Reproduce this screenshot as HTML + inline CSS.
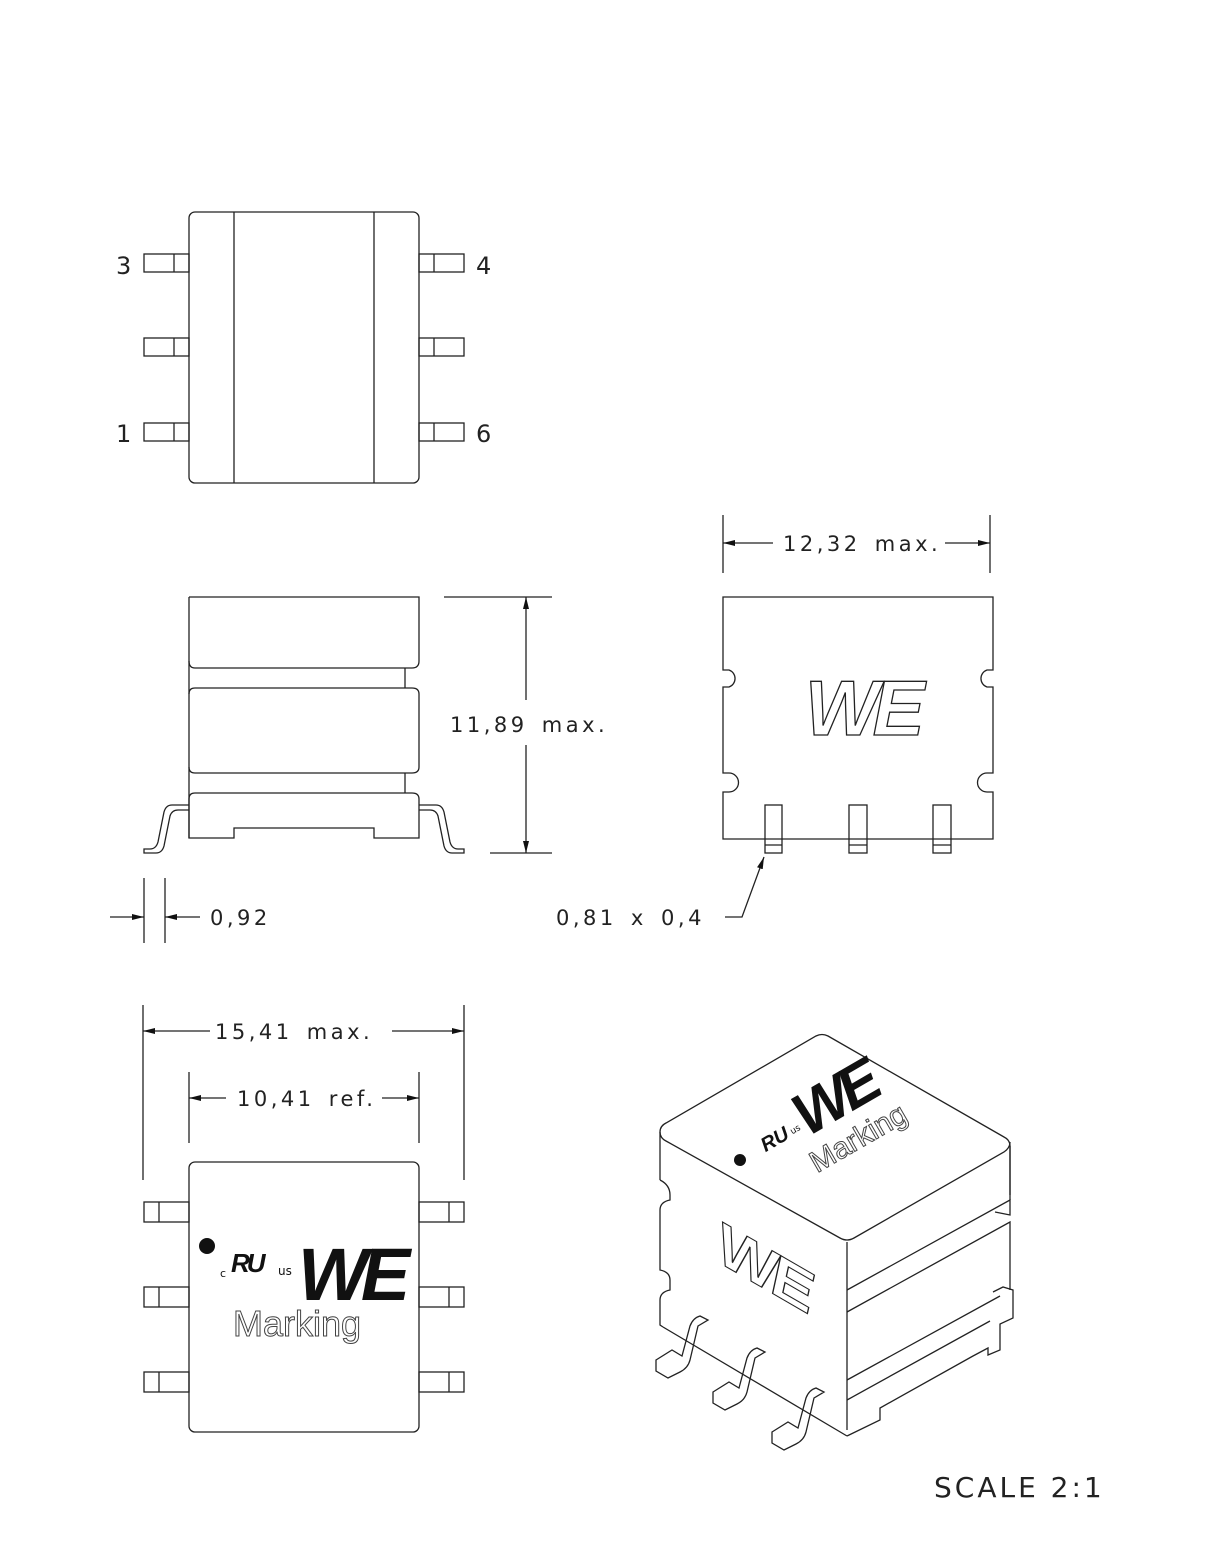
<!DOCTYPE html>
<html><head><meta charset="utf-8"><style>
html,body{margin:0;padding:0;background:#fff;}
svg{display:block;}
text{font-family:"DejaVu Sans","Liberation Sans",sans-serif;fill:#222;}
</style></head><body>
<svg width="1229" height="1558" viewBox="0 0 1229 1558" xmlns="http://www.w3.org/2000/svg">
<defs>
<marker id="a" viewBox="0 0 12 6" refX="12" refY="3" markerWidth="12" markerHeight="6" orient="auto" markerUnits="userSpaceOnUse"><path d="M0,0 L12,3 L0,6 z" fill="#111"/></marker>
</defs>
<g fill="none" stroke="#222" stroke-width="1.3">
<rect x="189" y="212" width="230" height="271" rx="6"/>
<line x1="234" y1="212" x2="234" y2="483"/>
<line x1="374" y1="212" x2="374" y2="483"/>
<g>
<rect x="144" y="254" width="45" height="18"/><line x1="174" y1="254" x2="174" y2="272"/>
<rect x="144" y="338" width="45" height="18"/><line x1="174" y1="338" x2="174" y2="356"/>
<rect x="144" y="423" width="45" height="18"/><line x1="174" y1="423" x2="174" y2="441"/>
<rect x="419" y="254" width="45" height="18"/><line x1="434" y1="254" x2="434" y2="272"/>
<rect x="419" y="338" width="45" height="18"/><line x1="434" y1="338" x2="434" y2="356"/>
<rect x="419" y="423" width="45" height="18"/><line x1="434" y1="423" x2="434" y2="441"/>
</g>
<path d="M189,597 H419 V661 Q419,668 412,668 H195 Q189,668 189,661"/>
<line x1="405" y1="668" x2="405" y2="688"/>
<path d="M189,694 Q189,688 195,688 H412 Q419,688 419,694 V767 Q419,773 412,773 H195 Q189,773 189,767"/>
<line x1="405" y1="773" x2="405" y2="793"/>
<path d="M189,799 Q189,793 195,793 H412 Q419,793 419,799 V838 H374 V828 H234 V838 H189 Z"/>
<line x1="189" y1="597" x2="189" y2="838"/>
<path d="M189,805 H172 Q166,805 164,812 L158,842 Q156,849 150,849 H144 V853 H156 Q162,853 164,846 L170,816 Q172,810 178,810 H189"/>
<path d="M419,805 H436 Q442,805 444,812 L450,842 Q452,849 458,849 H464 V853 H452 Q446,853 444,846 L438,816 Q436,810 430,810 H419"/>
<line x1="444" y1="597" x2="552" y2="597"/>
<line x1="490" y1="853" x2="552" y2="853"/>
<line x1="526" y1="700" x2="526" y2="597" marker-end="url(#a)"/>
<line x1="526" y1="745" x2="526" y2="853" marker-end="url(#a)"/>
<path d="M723,597 H993 V670 H987 A9,9 0 0 0 987,687 H993 V773 H987 A9,9 0 0 0 987,792 H993 V839 H723 V792 H729 A9,9 0 0 0 729,773 H723 V687 H729 A9,9 0 0 0 729,670 H723 Z"/>
<rect x="765" y="805" width="17" height="48"/><line x1="765" y1="845" x2="782" y2="845"/>
<rect x="849" y="805" width="18" height="48"/><line x1="849" y1="845" x2="867" y2="845"/>
<rect x="933" y="805" width="18" height="48"/><line x1="933" y1="845" x2="951" y2="845"/>
<line x1="723" y1="515" x2="723" y2="573"/>
<line x1="990" y1="515" x2="990" y2="573"/>
<line x1="773" y1="543" x2="723" y2="543" marker-end="url(#a)"/>
<line x1="945" y1="543" x2="990" y2="543" marker-end="url(#a)"/>
<polyline points="725,917 742,917 764,857" marker-end="url(#a)"/>
<line x1="144" y1="878" x2="144" y2="943"/>
<line x1="165" y1="878" x2="165" y2="943"/>
<line x1="110" y1="917" x2="144" y2="917" marker-end="url(#a)"/>
<line x1="200" y1="917" x2="165" y2="917" marker-end="url(#a)"/>
<line x1="143" y1="1005" x2="143" y2="1180"/>
<line x1="464" y1="1005" x2="464" y2="1180"/>
<line x1="210" y1="1031" x2="143" y2="1031" marker-end="url(#a)"/>
<line x1="392" y1="1031" x2="464" y2="1031" marker-end="url(#a)"/>
<line x1="189" y1="1072" x2="189" y2="1143"/>
<line x1="419" y1="1072" x2="419" y2="1143"/>
<line x1="226" y1="1098" x2="189" y2="1098" marker-end="url(#a)"/>
<line x1="382" y1="1098" x2="419" y2="1098" marker-end="url(#a)"/>
<rect x="189" y="1162" width="230" height="270" rx="6"/>
<rect x="144" y="1202" width="45" height="20"/><line x1="159" y1="1202" x2="159" y2="1222"/>
<rect x="144" y="1287" width="45" height="20"/><line x1="159" y1="1287" x2="159" y2="1307"/>
<rect x="144" y="1372" width="45" height="20"/><line x1="159" y1="1372" x2="159" y2="1392"/>
<rect x="419" y="1202" width="45" height="20"/><line x1="449" y1="1202" x2="449" y2="1222"/>
<rect x="419" y="1287" width="45" height="20"/><line x1="449" y1="1287" x2="449" y2="1307"/>
<rect x="419" y="1372" width="45" height="20"/><line x1="449" y1="1372" x2="449" y2="1392"/>
<path d="M660,1132 Q660,1126 666,1123 L816,1036 Q822,1033 828,1036 L1004,1137 Q1010,1140 1010,1146 L1010,1195"/>
<path d="M660,1132 Q660,1138 666,1141 L840,1238 Q847,1242 854,1238 L1004,1152 Q1010,1148 1010,1142"/>
<line x1="847" y1="1242" x2="847" y2="1430"/>
<line x1="660" y1="1132" x2="660" y2="1180"/>
<path d="M660,1180 Q670,1185 670,1195 V1200 Q660,1202 660,1210 V1270 Q670,1272 670,1280 V1290 Q660,1292 660,1300 V1325 L663,1327"/>
<line x1="1010" y1="1146" x2="1010" y2="1200"/>
<path d="M847,1290 L1010,1200 V1215 L995,1212"/>
<path d="M847,1312 L1010,1222 V1290"/>
<path d="M993,1292 L1003,1287 L1013,1290 V1318 L1000,1324 V1350 L988,1355 V1348 L973,1356 L880,1408 V1420 L847,1436"/>
<path d="M847,1380 L1000,1296"/>
<path d="M847,1400 L990,1321"/>
<path d="M663,1327 L847,1436"/>
<g>
<path d="M656,1360 L672,1350 L682,1356 L690,1326 Q693,1318 700,1316 L708,1320 L698,1326 L690,1360 Q688,1368 680,1372 L668,1378 L656,1371 Z"/>
<path d="M713,1392 L729,1382 L739,1388 L747,1358 Q750,1350 757,1348 L765,1352 L755,1358 L747,1392 Q745,1400 737,1404 L725,1410 L713,1403 Z"/>
<path d="M772,1432 L788,1422 L798,1428 L806,1398 Q809,1390 816,1388 L824,1392 L814,1398 L806,1432 Q804,1440 796,1444 L784,1450 L772,1443 Z"/>
</g>
</g>
<g font-size="24">
<text x="116" y="274">3</text>
<text x="476" y="274">4</text>
<text x="116" y="442">1</text>
<text x="476" y="442">6</text>
</g>
<g font-size="21" letter-spacing="3.5" word-spacing="4">
<text x="450" y="732">11,89 max.</text>
<text x="783" y="551">12,32 max.</text>
<text x="556" y="925">0,81 x 0,4</text>
<text x="210" y="925">0,92</text>
<text x="215" y="1039">15,41 max.</text>
<text x="237" y="1106">10,41 ref.</text>
</g>
<text x="934" y="1497" font-size="28" letter-spacing="3">SCALE  2:1</text>
<text x="805" y="735" font-size="78" font-weight="bold" font-style="italic" letter-spacing="-6" style="fill:#fff;stroke:#222;stroke-width:1.3;font-family:'Liberation Sans',sans-serif">WE</text>
<circle cx="207" cy="1246" r="8" fill="#111"/>
<text x="220" y="1277" font-size="11" style="fill:#111">c</text>
<text x="231" y="1272" font-size="26" font-weight="bold" font-style="italic" style="fill:#111;font-family:'Liberation Sans',sans-serif" letter-spacing="-3">RU</text>
<text x="278" y="1275" font-size="12" style="fill:#111">us</text>
<text x="298" y="1300" font-size="74" font-weight="bold" font-style="italic" letter-spacing="-7" style="fill:#111;font-family:'Liberation Sans',sans-serif">WE</text>
<text x="233" y="1336" font-size="36" style="fill:#fff;stroke:#444;stroke-width:1;font-family:'Liberation Sans',sans-serif">Marking</text>
<g transform="translate(740,1160) rotate(-30)">
<circle cx="0" cy="0" r="6" fill="#111"/>
<text x="26" y="6" font-size="20" font-weight="bold" font-style="italic" style="fill:#111;font-family:'Liberation Sans',sans-serif">RU</text>
<text x="58" y="4" font-size="9" style="fill:#111">us</text>
<text x="70" y="14" font-size="60" font-weight="bold" font-style="italic" letter-spacing="-6" style="fill:#111;font-family:'Liberation Sans',sans-serif">WE</text>
<text x="60" y="50" font-size="30" style="fill:#fff;stroke:#444;stroke-width:1;font-family:'Liberation Sans',sans-serif">Marking</text>
</g>
<g transform="translate(718,1262) skewY(30)">
<text x="0" y="0" font-size="62" font-weight="bold" font-style="italic" letter-spacing="-5" style="fill:#fff;stroke:#222;stroke-width:1.2;font-family:'Liberation Sans',sans-serif">WE</text>
</g>
</svg>
</body></html>
